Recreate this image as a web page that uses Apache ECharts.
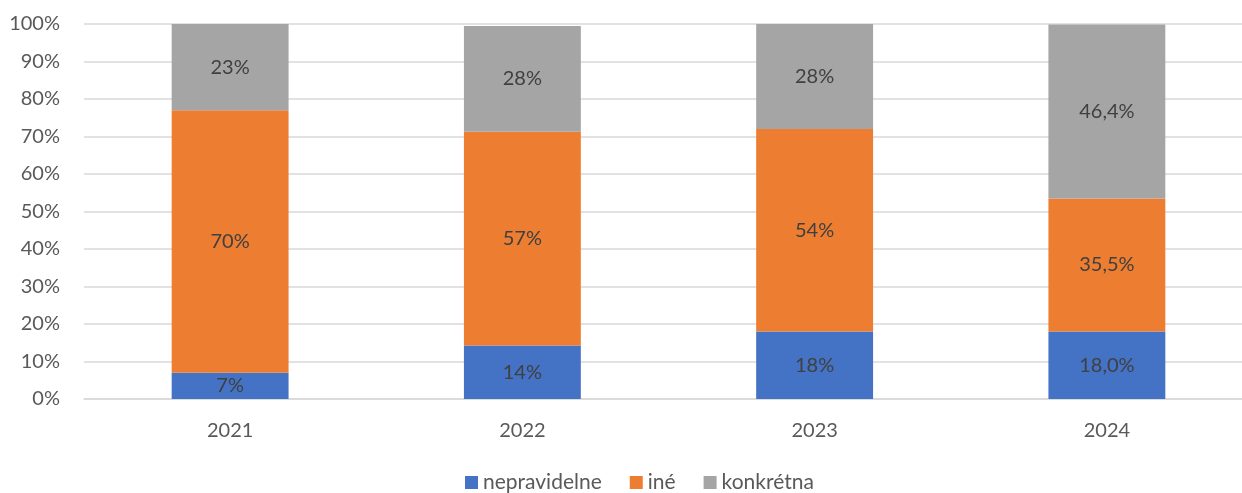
<!DOCTYPE html>
<html>
<head>
<meta charset="utf-8">
<script src="https://cdn.jsdelivr.net/npm/echarts@6/dist/echarts.min.js"></script>
<style>
html,body{margin:0;padding:0;background:#fff;overflow:hidden;}
#c{width:1242px;height:493px;}
</style>
</head>
<body>
<div id="c"></div>
<script>
const categories = ['2021', '2022', '2023', '2024'];
const seriesNames = ['nepravidelne', 'iné', 'konkrétna'];
const nepravidelne = [7, 14.3, 18, 18.0];
const ine = [70, 57.0, 54, 35.5];
const konkretna = [23, 28.2, 28, 46.4];
const nepravidelneLabels = ['7%', '14%', '18%', '18,0%'];
const ineLabels = ['70%', '57%', '54%', '35,5%'];
const konkretnaLabels = ['23%', '28%', '28%', '46,4%'];
const colors = ['#4472C4', '#ED7D31', '#A5A5A5'];

const FONT = 'Lato, "Open Sans", sans-serif';

function mk(name, data, labels, color) {
  return {
    name: name,
    type: 'bar',
    stack: 'total',
    barWidth: '40%',
    itemStyle: { color: color },
    label: {
      show: true,
      position: 'inside',
      color: '#404040',
      fontSize: 20,
      fontFamily: FONT,
      formatter: p => labels[p.dataIndex]
    },
    data: data
  };
}

const chart = echarts.init(document.getElementById('c'), null, { renderer: 'canvas' });
chart.setOption({
  animation: false,
  color: colors,
  grid: { left: 84, width: 1169, top: 24, height: 375, containLabel: false, outerBoundsMode: 'none' },
  legend: {
    top: 467,
    left: 460,
    itemWidth: 13,
    itemHeight: 13,
    itemGap: 28,
    icon: 'rect',
    textStyle: { color: '#595959', fontSize: 21, fontFamily: FONT },
    data: seriesNames
  },
  xAxis: {
    type: 'category',
    data: categories,
    axisLine: { lineStyle: { color: '#D9D9D9', width: 1.5 } },
    axisTick: { show: false },
    axisLabel: { color: '#595959', fontSize: 20, fontFamily: FONT, margin: 22 }
  },
  yAxis: {
    type: 'value',
    min: 0,
    max: 100,
    interval: 10,
    axisLine: { show: false },
    axisTick: { show: false },
    splitLine: { lineStyle: { color: '#D9D9D9', width: 1.5 } },
    axisLabel: { color: '#595959', fontSize: 20, fontFamily: FONT, margin: 24, formatter: '{value}%' }
  },
  series: [
    mk(seriesNames[0], nepravidelne, nepravidelneLabels, colors[0]),
    mk(seriesNames[1], ine, ineLabels, colors[1]),
    mk(seriesNames[2], konkretna, konkretnaLabels, colors[2])
  ]
});
</script>
</body>
</html>
